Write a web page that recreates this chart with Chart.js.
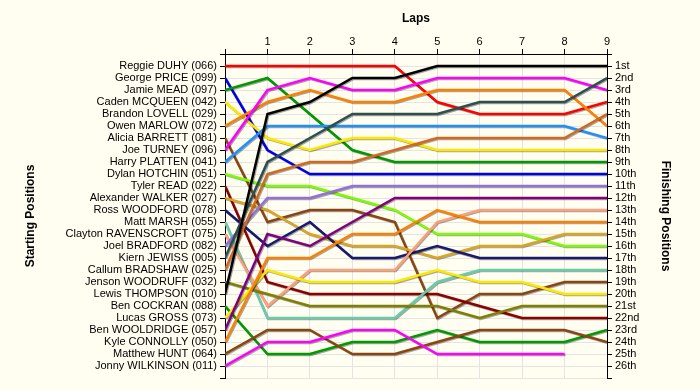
<!DOCTYPE html>
<html>
<head>
<meta charset="utf-8">
<title>Lap chart</title>
<script src="https://cdn.jsdelivr.net/npm/chart.js@4.4.0/dist/chart.umd.min.js"></script>
<style>
    html, body { margin: 0; padding: 0; background: #FFFEF1; }
    #lapChart { display: block; }
</style>
</head>
<body>
<canvas id="lapChart" width="700" height="390"></canvas>
<script>
/* =============================================
   LAP CHART - starting grid to finish
   ============================================= */

// Laps on the top axis (0 = grid)
const laps = [0, 1, 2, 3, 4, 5, 6, 7, 8, 9];

// Drivers in starting order (left axis labels)
const drivers = [
    'Reggie DUHY (066)', 'George PRICE (099)', 'Jamie MEAD (097)', 'Caden MCQUEEN (042)',
    'Brandon LOVELL (029)', 'Owen MARLOW (072)', 'Alicia BARRETT (081)', 'Joe TURNEY (096)',
    'Harry PLATTEN (041)', 'Dylan HOTCHIN (051)', 'Tyler READ (022)', 'Alexander WALKER (027)',
    'Ross WOODFORD (078)', 'Matt MARSH (055)', 'Clayton RAVENSCROFT (075)', 'Joel BRADFORD (082)',
    'Kiern JEWISS (005)', 'Callum BRADSHAW (025)', 'Jenson WOODRUFF (032)', 'Lewis THOMPSON (010)',
    'Ben COCKRAN (088)', 'Lucas GROSS (073)', 'Ben WOOLDRIDGE (057)', 'Kyle CONNOLLY (050)',
    'Matthew HUNT (064)', 'Jonny WILKINSON (011)'
];

// Finishing positions (right axis labels)
const finishLabels = [
    '1st', '2nd', '3rd', '4th', '5th', '6th', '7th', '8th', '9th', '10th',
    '11th', '12th', '13th', '14th', '15th', '16th', '17th', '18th', '19th', '20th',
    '21st', '22nd', '23rd', '24th', '25th', '26th'
];

// Position of each driver at the end of each lap
const reggieDuhy         = [1, 1, 1, 1, 1, 4, 5, 5, 5, 4];
const georgePrice        = [2, 8, 10, 10, 10, 10, 10, 10, 10, 10];
const jamieMead          = [3, 2, 5, 8, 9, 9, 9, 9, 9, 9];
const cadenMcqueen       = [4, 7, 8, 7, 7, 8, 8, 8, 8, 8];
const brandonLovell      = [5, null, null, null, null, null, null, null, null, null];
const owenMarlow         = [6, 4, 3, 4, 4, 3, 3, 3, 3, 6];
const aliciaBarrett      = [7, 14, 13, 13, 14, 22, 20, 20, 19, 19];
const joeTurney          = [8, 3, 2, 3, 3, 2, 2, 2, 2, 3];
const harryPlatten       = [9, 6, 6, 6, 6, 6, 6, 6, 6, 7];
const dylanHotchin       = [10, 11, 11, 12, 13, 15, 15, 15, 16, 16];
const tylerRead          = [11, 19, 20, 20, 20, 20, 21, 22, 22, 22];
const alexanderWalker    = [12, 13, 15, 16, 16, 17, 16, 16, 15, 15];
const rossWoodford       = [13, 16, 14, 17, 17, 16, 17, 17, 17, 17];
const mattMarsh          = [14, 22, 22, 22, 22, 19, 18, 18, 18, 18];
const claytonRavenscroft = [15, 21, 18, 18, 18, 14, 13, 13, 13, 13];
const joelBradford       = [16, 12, 12, 11, 11, 11, 11, 11, 11, 11];
const kiernJewiss        = [17, 9, 7, 5, 5, 5, 4, 4, 4, 2];
const callumBradshaw     = [18, 10, 9, 9, 8, 7, 7, 7, 7, 5];
const jensonWoodruff     = [19, 20, 21, 21, 21, 21, 22, 21, 21, 21];
const lewisThompson      = [20, 5, 4, 2, 2, 1, 1, 1, 1, 1];
const benCockran         = [21, 25, 25, 24, 24, 23, 24, 24, 24, 23];
const lucasGross         = [22, 18, 19, 19, 19, 18, 19, 19, 20, 20];
const benWooldridge      = [23, 15, 16, 14, 12, 12, 12, 12, 12, 12];
const kyleConnolly       = [24, 17, 17, 15, 15, 13, 14, 14, 14, 14];
const matthewHunt        = [25, 23, 23, 25, 25, 24, 23, 23, 23, 24];
const jonnyWilkinson     = [26, 24, 24, 23, 23, 25, 25, 25, 25, null];

const lapPositions = [
    reggieDuhy, georgePrice, jamieMead, cadenMcqueen, brandonLovell, owenMarlow,
    aliciaBarrett, joeTurney, harryPlatten, dylanHotchin, tylerRead, alexanderWalker,
    rossWoodford, mattMarsh, claytonRavenscroft, joelBradford, kiernJewiss, callumBradshaw,
    jensonWoodruff, lewisThompson, benCockran, lucasGross, benWooldridge, kyleConnolly,
    matthewHunt, jonnyWilkinson
];

// Line colours, same order as drivers
const lineColors = [
    '#FF0000', '#0000F0', '#009A00', '#FFE800', '#999999', '#FF8000',
    '#8B4513', '#FF00FF', '#1E90FF', '#7CFC00', '#8B0000', '#DAA520',
    '#191970', '#66CDAA', '#FFA07A', '#9370DB', '#2F4F4F', '#D2691E',
    '#808000', '#000000', '#009A00', '#FFE800', '#800080', '#FF8000',
    '#8B4513', '#FF00FF'
];

const axisFont = { family: '"Liberation Sans", Arial, sans-serif', size: 11 };
const titleFont = { family: '"Liberation Sans", Arial, sans-serif', size: 12, weight: 'bold' };
const gridColor = '#E4E4E4';

// Small drop shadow under every line
const lineShadow = {
    id: 'lineShadow',
    beforeDatasetDraw(chart) {
        const ctx = chart.ctx;
        ctx.save();
        ctx.shadowColor = 'rgba(0, 0, 0, 0.35)';
        ctx.shadowOffsetX = 1;
        ctx.shadowOffsetY = 1;
        ctx.shadowBlur = 0;
    },
    afterDatasetDraw(chart) {
        chart.ctx.restore();
    }
};

const datasets = drivers.map((name, i) => ({
    label: name,
    data: laps.map((lap, j) => ({ x: lap, y: lapPositions[i][j] })),
    borderColor: lineColors[i],
    backgroundColor: lineColors[i],
    borderWidth: 2.5,
    pointRadius: 0,
    pointHoverRadius: 0,
    tension: 0,
    fill: false,
    spanGaps: false,
    order: drivers.length - i
}));

new Chart(document.getElementById('lapChart'), {
    type: 'line',
    data: { datasets },
    plugins: [lineShadow],
    options: {
        responsive: false,
        animation: false,
        layout: { padding: { top: 0, bottom: 12, left: 0, right: 0 } },
        plugins: {
            legend: { display: false },
            tooltip: { enabled: false }
        },
        scales: {
            x: {
                type: 'linear',
                position: 'top',
                min: 0,
                max: 9,
                ticks: {
                    stepSize: 1,
                    padding: 0,
                    color: '#000',
                    font: axisFont,
                    callback: v => (v === 0 ? '' : v)
                },
                grid: { color: gridColor, tickColor: '#000', tickLength: 5 },
                border: { color: '#000', width: 1 },
                title: {
                    display: true,
                    text: 'Laps',
                    color: '#000',
                    font: titleFont,
                    padding: { top: 11, bottom: 0 }
                },
                afterFit(scale) { scale.height = 54; }
            },
            y: {
                type: 'linear',
                position: 'left',
                reverse: true,
                min: 0,
                max: 27,
                ticks: {
                    stepSize: 1,
                    autoSkip: false,
                    padding: 3,
                    color: '#000',
                    font: axisFont,
                    callback: v => (v >= 1 && v <= drivers.length ? drivers[v - 1] : '')
                },
                grid: { color: gridColor, tickColor: '#000', tickLength: 5 },
                border: { color: '#000', width: 1 },
                title: {
                    display: true,
                    text: 'Starting Positions',
                    color: '#000',
                    font: titleFont,
                    padding: { top: 23, bottom: 0 }
                },
                afterFit(scale) { scale.width = 225; }
            },
            y2: {
                type: 'linear',
                position: 'right',
                reverse: true,
                min: 0,
                max: 27,
                ticks: {
                    stepSize: 1,
                    autoSkip: false,
                    padding: 3,
                    color: '#000',
                    font: axisFont,
                    callback: v => (v >= 1 && v <= finishLabels.length ? finishLabels[v - 1] : '')
                },
                grid: { drawOnChartArea: false, tickColor: '#000', tickLength: 5 },
                border: { color: '#000', width: 1 },
                title: {
                    display: true,
                    text: 'Finishing Positions',
                    color: '#000',
                    font: titleFont,
                    padding: { top: 27, bottom: 0 }
                },
                afterFit(scale) { scale.width = 93; }
            }
        }
    }
});
</script>
</body>
</html>
